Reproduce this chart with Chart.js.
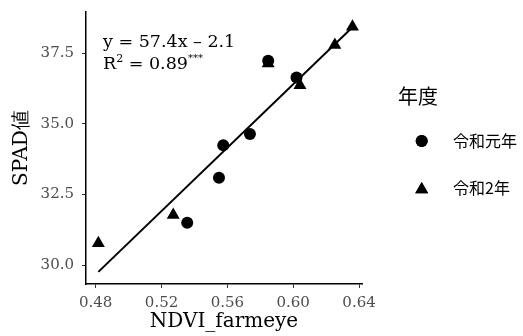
<!DOCTYPE html>
<html>
<head>
<meta charset="utf-8">
<script src="https://cdn.jsdelivr.net/npm/chart.js@4"></script>
<style>
  html, body { margin: 0; padding: 0; background: #fff; }
  #wrap { width: 523px; height: 336px; }
</style>
</head>
<body>
<div id="wrap"><canvas id="c" width="523" height="336"></canvas></div>
<script>
// values
const years = ["令和元年", "令和2年"];
const ndviR1 = [0.5356, 0.5549, 0.5575, 0.5737, 0.5848, 0.6020];
const spadR1 = [31.50, 33.09, 34.24, 34.64, 37.23, 36.64];
const ndviR2 = [0.4816, 0.5271, 0.5848, 0.6041, 0.6253, 0.636];
const spadR2 = [30.77, 31.77, 37.14, 36.37, 37.79, 38.44];
const fitX = [0.4816, 0.636];
const fitY = [29.76, 38.42];
const xTicks = [0.48, 0.52, 0.56, 0.6, 0.64];
const yTicks = [30, 32.5, 35, 37.5];
const eqText = "y = 57.4x \u2013 2.1";

const serif = "'DejaVu Serif', serif";
const cjk = "'Noto Sans CJK JP', sans-serif";

const toPts = (xs, ys) => xs.map((x, i) => ({ x: x, y: ys[i] }));

// axis titles, equation text and legend
const extras = {
  id: "extras",
  afterDraw(chart) {
    const ctx = chart.ctx;
    const area = chart.chartArea;
    ctx.save();
    ctx.fillStyle = "#000";
    ctx.textBaseline = "middle";

    // x title
    ctx.textAlign = "center";
    ctx.font = "20px " + serif;
    ctx.fillText("NDVI_farmeye", (area.left + area.right) / 2, 322);

    // y title
    ctx.save();
    ctx.translate(22, 148);
    ctx.rotate(-Math.PI / 2);
    ctx.font = "20px " + serif;
    ctx.fillText("SPAD値", 0, 0);
    ctx.restore();

    // regression text
    ctx.textAlign = "left";
    ctx.font = "17.5px " + serif;
    ctx.fillText(eqText, 103, 42);
    ctx.fillText("R", 103, 64);
    let w = ctx.measureText("R").width;
    ctx.font = "11px " + serif;
    ctx.fillText("2", 103 + w, 59);
    let w2 = ctx.measureText("2").width;
    ctx.font = "17.5px " + serif;
    ctx.fillText(" = 0.89", 103 + w + w2, 64);
    let w3 = ctx.measureText(" = 0.89").width;
    ctx.font = "10px " + serif;
    ctx.fillText("***", 103 + w + w2 + w3, 58);

    // legend
    ctx.font = "20px " + cjk;
    ctx.fillText("年度", 398, 96);
    ctx.font = "16px " + cjk;
    const rows = [141, 188];
    const styles = ["circle", "triangle"];
    rows.forEach((yy, i) => {
      Chart.helpers.drawPoint(ctx, {
        pointStyle: styles[i],
        radius: styles[i] === "circle" ? 6 : 7.5,
        borderWidth: 0,
        rotation: 0
      }, 421.7, styles[i] === "triangle" ? yy + 1.5 : yy);
      ctx.fillStyle = "#000";
      ctx.fill();
      ctx.fillText(years[i], 453, yy);
    });
    ctx.restore();
  }
};

const tickFont = { family: serif, size: 15 };

new Chart(document.getElementById("c"), {
  type: "scatter",
  data: {
    datasets: [
      {
        label: "fit",
        type: "line",
        data: toPts(fitX, fitY),
        borderColor: "#000",
        borderWidth: 2,
        pointRadius: 0,
        fill: false,
        order: 0
      },
      {
        label: years[1],
        data: toPts(ndviR2, spadR2),
        pointStyle: "triangle",
        pointRadius: 7.5,
        backgroundColor: "#000",
        borderWidth: 0,
        order: 2
      },
      {
        label: years[0],
        data: toPts(ndviR1, spadR1),
        pointStyle: "circle",
        pointRadius: 6,
        backgroundColor: "#000",
        borderWidth: 0,
        order: 1
      }
    ]
  },
  options: {
    responsive: false,
    animation: false,
    layout: { padding: { top: 12, right: 161, left: 0, bottom: 0 } },
    plugins: {
      legend: { display: false },
      tooltip: { enabled: false }
    },
    scales: {
      x: {
        type: "linear",
        min: 0.4741,
        max: 0.6418,
        afterBuildTicks: (s) => { s.ticks = xTicks.map((v) => ({ value: v })); },
        afterFit: (s) => { s.height = 52; s.paddingLeft = 0; s.paddingRight = 0; },
        ticks: { color: "#4d4d4d", font: tickFont, padding: 6, callback: (v) => v.toFixed(2) },
        grid: { display: true, drawOnChartArea: false, drawTicks: true, tickLength: 4, color: "#333", lineWidth: 1 },
        border: { display: true, color: "#000", width: 1.5 }
      },
      y: {
        type: "linear",
        min: 29.33,
        max: 38.96,
        afterBuildTicks: (s) => { s.ticks = yTicks.map((v) => ({ value: v })); },
        afterFit: (s) => { s.width = 86; s.paddingTop = 0; s.paddingBottom = 0; },
        ticks: { color: "#4d4d4d", font: tickFont, padding: 8, callback: (v) => v.toFixed(1) },
        grid: { display: true, drawOnChartArea: false, drawTicks: true, tickLength: 4, color: "#333", lineWidth: 1 },
        border: { display: true, color: "#000", width: 1.5 }
      }
    }
  },
  plugins: [extras]
});
</script>
</body>
</html>
